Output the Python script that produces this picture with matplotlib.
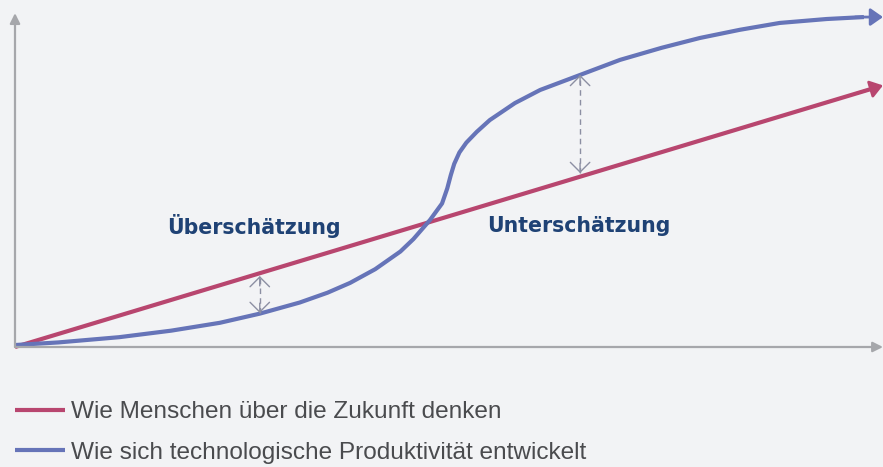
import matplotlib
matplotlib.use("Agg")
import matplotlib.pyplot as plt

# Daten (abstrakte Einheiten: x = Zeit 0..10, y = Wirkung 0..10)
people_x = [0, 10]
people_y = [0, 8.0]

tech_x = [0, 0.5, 1.2, 1.8, 2.36, 2.82, 3.28, 3.6, 3.86, 4.15, 4.44, 4.59, 4.78, 4.92,
          4.98, 5.02, 5.06, 5.12, 5.2, 5.32, 5.47, 5.76, 6.05, 6.51, 6.97, 7.45, 7.89,
          8.35, 8.81, 9.35, 9.88]
tech_y = [0.06, 0.14, 0.30, 0.50, 0.74, 1.02, 1.36, 1.66, 1.96, 2.38, 2.92, 3.30, 3.88, 4.39,
          4.85, 5.25, 5.60, 5.95, 6.25, 6.58, 6.94, 7.46, 7.86, 8.32, 8.78, 9.15, 9.45,
          9.70, 9.91, 10.03, 10.09]

gap_x = [2.82, 6.51]
gap_top = [2.17, 8.32]
gap_bottom = [1.04, 5.32]

labels = ["Überschätzung", "Unterschätzung"]
label_x = [2.75, 6.5]
label_y = [3.7, 3.7]

legend_labels = ["Wie Menschen über die Zukunft denken",
                 "Wie sich technologische Produktivität entwickelt"]

bg = "#f2f3f5"
c_people = "#b8466f"
c_tech = "#6674b8"
c_axis = "#a6a7ab"
c_gap = "#8c8fa3"
c_label = "#1f4275"

W, H = 883, 467
fig = plt.figure(figsize=(W / 100, H / 100), dpi=100, facecolor=bg)
ax = fig.add_axes([15 / W, (H - 347) / H, 868 / W, 327 / H])
ax.set_facecolor(bg)
ax.set_xlim(0, 10)
ax.set_ylim(0, 10)
ax.axis("off")

# Achsen mit Pfeilen
ax.annotate("", xy=(0, 10.21), xytext=(0, 0), annotation_clip=False,
            arrowprops=dict(arrowstyle="-|>", color=c_axis, lw=1.6,
                            mutation_scale=15, shrinkA=0, shrinkB=0))
ax.annotate("", xy=(10, 0), xytext=(0, 0), annotation_clip=False,
            arrowprops=dict(arrowstyle="-|>", color=c_axis, lw=1.6,
                            mutation_scale=15, shrinkA=0, shrinkB=0))

# Linien
l1, = ax.plot(people_x[:-1] + [people_x[-1] - 0.1], people_y[:-1] + [people_y[-1] - 0.08],
              color=c_people, lw=3, solid_capstyle="butt", clip_on=False)
l2, = ax.plot(tech_x[:-1] + [tech_x[-1] - 0.1], tech_y[:-1] + [tech_y[-1]],
              color=c_tech, lw=3, solid_joinstyle="round", solid_capstyle="butt", clip_on=False)
ax.annotate("", xy=(people_x[-1], people_y[-1]), xytext=(people_x[-1] - 0.3, people_y[-1] - 0.24),
            annotation_clip=False,
            arrowprops=dict(arrowstyle="-|>,head_length=0.5,head_width=0.35", color=c_people,
                            lw=2, mutation_scale=15, shrinkA=0, shrinkB=0))
ax.annotate("", xy=(tech_x[-1] + 0.12, tech_y[-1]), xytext=(tech_x[-1] - 0.2, tech_y[-1]),
            annotation_clip=False,
            arrowprops=dict(arrowstyle="-|>,head_length=0.5,head_width=0.35", color=c_tech,
                            lw=2, mutation_scale=15, shrinkA=0, shrinkB=0))

# gestrichelte Doppelpfeile
for gx, gt, gb in zip(gap_x, gap_top, gap_bottom):
    ax.plot([gx, gx], [gb, gt], color=c_gap, lw=1, dashes=(4, 3))
    for tip, frm in [(gt, gt - 0.3), (gb, gb + 0.3)]:
        ax.annotate("", xy=(gx, tip), xytext=(gx, frm),
                    arrowprops=dict(arrowstyle="->,head_length=0.5,head_width=0.5",
                                    color=c_gap, lw=1, mutation_scale=14,
                                    shrinkA=0, shrinkB=0))

for t, x, y in zip(labels, label_x, label_y):
    ax.text(x, y, t, ha="center", va="center", fontsize=14.8, fontweight="bold",
            color=c_label, family="DejaVu Sans")

leg = fig.legend([l1, l2], legend_labels, loc="upper left",
                 bbox_to_anchor=(15 / W, 1 - 401 / H), frameon=False,
                 prop=dict(family="Liberation Sans", size=17.6), labelcolor="#4a4b4e",
                 handlelength=2.05, handletextpad=0.25, labelspacing=0.76,
                 borderpad=0, borderaxespad=0)

fig.savefig("out.png", dpi=100, facecolor=bg)
